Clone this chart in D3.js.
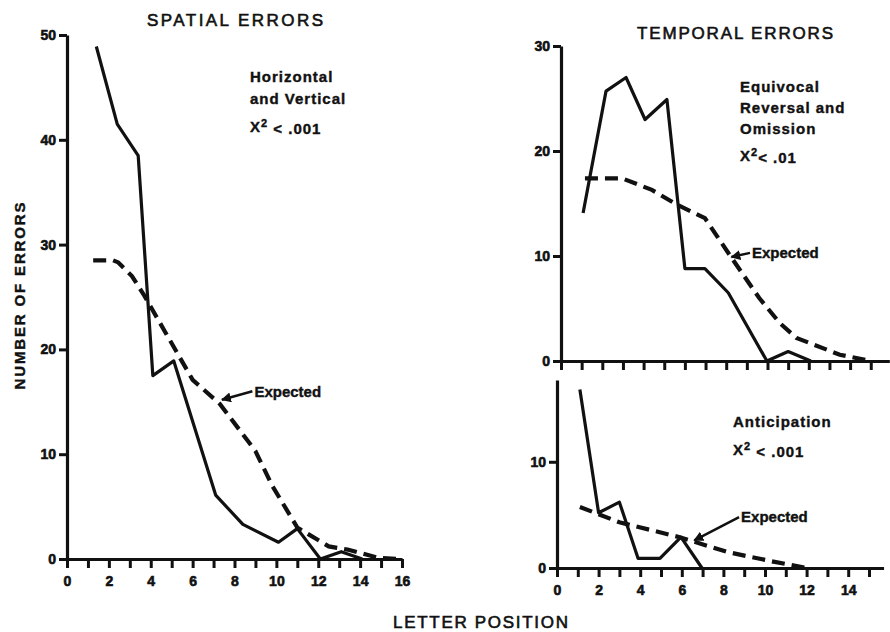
<!DOCTYPE html>
<html>
<head>
<meta charset="utf-8">
<script src="https://cdn.jsdelivr.net/npm/d3@7"></script>
<style>
  body { margin: 0; background: #fff; }
  svg { display: block; }
  text { font-family: "Liberation Sans", Arial, sans-serif; font-weight: bold; fill: #111; stroke: #111; stroke-width: 0.4px; }
</style>
</head>
<body>
<svg id="chart" width="890" height="632"></svg>
<script>
// values (letter position, number of errors)
var spatialObsX = [1.4, 2.4, 3.4, 4.1, 5.1, 7.1, 8.4, 10.1, 11.0, 12.1, 13.1, 14.1];
var spatialObsY = [48.9, 41.5, 38.5, 17.5, 18.9, 6.1, 3.3, 1.6, 2.9, 0, 0.7, 0];
var spatialExpX = [1.25, 2.2, 2.45, 3.1, 3.7, 6.0, 7.3, 9.0, 9.8, 11.0, 12.5, 13.4, 14.9, 15.8];
var spatialExpY = [28.5, 28.5, 28.3, 27.0, 25.1, 17.1, 14.8, 10.3, 7.0, 3.0, 1.2, 0.9, 0.1, 0];

var temporalObsX = [1.07, 2.18, 3.15, 4.07, 5.13, 6.0, 6.97, 8.1, 9.97, 11.0, 12.1];
var temporalObsY = [14.1, 25.7, 27.0, 23.0, 24.9, 8.8, 8.8, 6.5, 0, 0.9, 0];
var temporalExpX = [1.16, 2.95, 4.4, 5.6, 6.97, 8.2, 9.6, 10.6, 11.4, 13.5, 15.0];
var temporalExpY = [17.4, 17.4, 16.3, 14.9, 13.6, 10.0, 6.0, 3.6, 2.2, 0.6, 0];

var anticObsX = [1.1, 2.0, 3.0, 3.9, 4.95, 5.96, 6.97];
var anticObsY = [16.8, 5.2, 6.2, 0.9, 0.9, 2.9, 0];
var anticExpX = [1.1, 3.0, 5.9, 8.2, 10.4, 12.0];
var anticExpY = [5.75, 4.3, 2.9, 1.5, 0.6, 0];

var xTicksLeft = d3.range(0, 17);          // 0..16
var xTicksRight = d3.range(0, 16);         // 0..15
var yTicksSpatial = [0, 10, 20, 30, 40, 50];
var yTicksTemporal = [0, 10, 20, 30];
var yTicksAntic = [0, 10];

var svg = d3.select("#chart");

function pts(xs, ys) { return xs.map(function (d, i) { return [d, ys[i]]; }); }

// one panel: scales, axes, the two curves
function panel(opt) {
	var x = d3.scaleLinear().domain(opt.xDomain).range(opt.xRange);
	var y = d3.scaleLinear().domain(opt.yDomain).range(opt.yRange);
	var g = svg.append("g");

	var xAxis = d3.axisBottom(x).tickValues(opt.xTicks).tickSize(9).tickSizeOuter(0).tickPadding(8)
		.tickFormat(function (d) { return opt.xLabels && d % 2 === 0 && d <= opt.xLabelMax ? d : ""; });
	var xg = g.append("g").attr("transform", "translate(0," + y(0) + ")").call(xAxis);

	var yAxis = d3.axisLeft(y).tickValues(opt.yTicks).tickSize(8).tickSizeOuter(0).tickPadding(3);
	var yg = g.append("g").attr("transform", "translate(" + x(0) + ",0)").call(yAxis);

	[xg, yg].forEach(function (a) {
		a.select(".domain").attr("stroke", "#111").attr("stroke-width", 3.2);
		a.selectAll(".tick line").attr("stroke", "#111").attr("stroke-width", 3);
		a.selectAll(".tick text").style("font-size", "14px").style("font-weight", "bold")
			.style("font-family", "'Liberation Sans', Arial, sans-serif").attr("fill", "#111")
			.style("stroke", "#111").style("stroke-width", 0.6);
	});

	var line = d3.line().x(function (d) { return x(d[0]); }).y(function (d) { return y(d[1]); });

	g.append("path").datum(pts(opt.obsX, opt.obsY))
		.attr("d", line).attr("fill", "none").attr("stroke", "#111")
		.attr("stroke-width", 3.2).attr("stroke-linejoin", "round");
	g.append("path").datum(pts(opt.expX, opt.expY))
		.attr("d", line).attr("fill", "none").attr("stroke", "#111")
		.attr("stroke-width", 4.2).attr("stroke-dasharray", "13,7");

	// "Expected" with arrow
	var e = opt.expected;
	g.append("line")
		.attr("x1", x(e.tx) - 2).attr("y1", y(e.ty))
		.attr("x2", x(e.ax)).attr("y2", y(e.ay))
		.attr("stroke", "#111").attr("stroke-width", 2.5)
		.attr("marker-end", "url(#head)");
	g.append("text").attr("x", x(e.tx)).attr("y", y(e.ty))
		.attr("dy", "0.35em").style("font-size", "15px").text("Expected");

	return g;
}

svg.append("defs").append("marker")
	.attr("id", "head").attr("viewBox", "0 0 10 10").attr("refX", 9).attr("refY", 5)
	.attr("markerWidth", 4).attr("markerHeight", 4).attr("orient", "auto")
	.append("path").attr("d", "M0,0 L10,5 L0,10 Z").attr("fill", "#111");

panel({
	xDomain: [0, 16], xRange: [67, 402], yDomain: [0, 50], yRange: [559, 35],
	xTicks: xTicksLeft, xLabels: true, xLabelMax: 16, yTicks: yTicksSpatial,
	obsX: spatialObsX, obsY: spatialObsY, expX: spatialExpX, expY: spatialExpY,
	expected: { tx: 8.95, ty: 16.0, ax: 7.4, ay: 15.2 }
});

panel({
	xDomain: [0, 15.9], xRange: [561, 561 + 15.9 * 20.65], yDomain: [0, 30], yRange: [361, 46],
	xTicks: xTicksRight, xLabels: false, yTicks: yTicksTemporal,
	obsX: temporalObsX, obsY: temporalObsY, expX: temporalExpX, expY: temporalExpY,
	expected: { tx: 9.25, ty: 10.3, ax: 8.25, ay: 9.9 }
});

panel({
	xDomain: [0, 15.7], xRange: [557, 557 + 15.7 * 20.8], yDomain: [0, 17.7], yRange: [568, 380],
	xTicks: xTicksRight, xLabels: true, xLabelMax: 14, yTicks: yTicksAntic,
	obsX: anticObsX, obsY: anticObsY, expX: anticExpX, expY: anticExpY,
	expected: { tx: 8.85, ty: 4.8, ax: 6.6, ay: 2.6 }
});

// titles and axis labels
svg.append("text").attr("x", 147).attr("y", 20).attr("dy", "0.35em")
	.attr("textLength", 176).attr("lengthAdjust", "spacing")
	.style("font-size", "17px").style("font-weight", "normal").style("stroke-width", 0.6)
	.text("SPATIAL ERRORS");
svg.append("text").attr("x", 637).attr("y", 33).attr("dy", "0.35em")
	.attr("textLength", 196).attr("lengthAdjust", "spacing")
	.style("font-size", "17px").style("font-weight", "normal").style("stroke-width", 0.6)
	.text("TEMPORAL ERRORS");
svg.append("text").attr("x", 393).attr("y", 622).attr("dy", "0.35em")
	.attr("textLength", 175).attr("lengthAdjust", "spacing")
	.style("font-size", "17px").style("font-weight", "normal").style("stroke-width", 0.6)
	.text("LETTER POSITION");
svg.append("text").attr("transform", "translate(20,296) rotate(-90)")
	.attr("text-anchor", "middle").attr("dy", "0.35em")
	.attr("textLength", 187).attr("lengthAdjust", "spacing")
	.style("font-size", "15px")
	.text("NUMBER OF ERRORS");

// test notes
function note(x, y, lines) {
	lines.forEach(function (l, i) {
		var t = svg.append("text").attr("x", x).attr("y", y + i * l.gap).attr("dy", "0.35em")
			.style("font-size", "15px").style("letter-spacing", "1px");
		if (l.sup) {
			t.append("tspan").text("X");
			t.append("tspan").attr("dy", "-0.45em").style("font-size", "11px").text("2");
			t.append("tspan").attr("dy", "0.45em").text(l.text);
		} else {
			t.text(l.text);
		}
	});
}
note(250, 77, [{ text: "Horizontal", gap: 22 }, { text: "and Vertical", gap: 22 }, { text: " < .001", sup: true, gap: 25 }]);
note(740, 87, [{ text: "Equivocal", gap: 21 }, { text: "Reversal and", gap: 21 }, { text: "Omission", gap: 21 }]);
note(740, 156, [{ text: "< .01", sup: true, gap: 0 }]);
note(733, 422, [{ text: "Anticipation", gap: 28 }]);
note(733, 450, [{ text: " < .001", sup: true, gap: 0 }]);
</script>
</body>
</html>
